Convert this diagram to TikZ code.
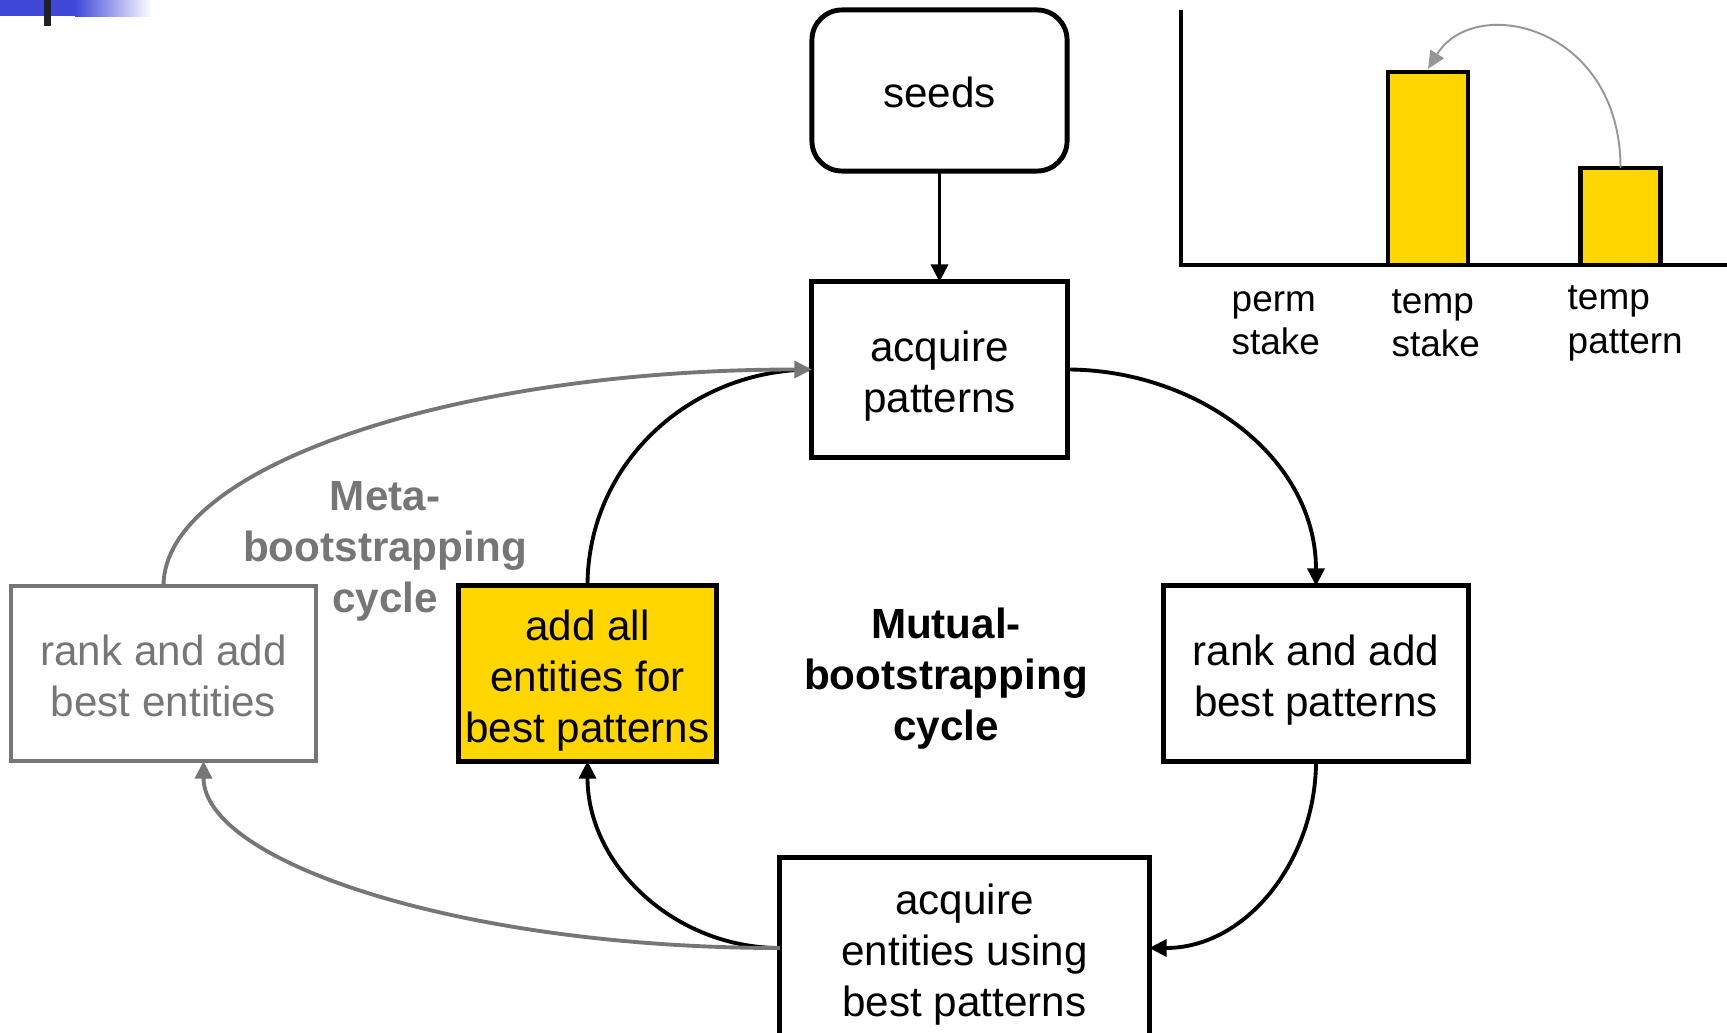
\documentclass[tikz,border=0pt]{standalone}
\usepackage{fontspec}
\setmainfont{Liberation Sans}
\usetikzlibrary{arrows.meta, positioning}
\definecolor{barfill}{RGB}{255,214,0}
\definecolor{metagrey}{RGB}{118,118,118}
\definecolor{tipgrey}{RGB}{150,150,150}
\definecolor{slideblue}{RGB}{64,72,216}
\newcommand{\topstrut}[1][12.6pt]{\rule{0pt}{#1}}
\newcommand{\botstrut}{\rule[-2.6pt]{0pt}{2.6pt}}

\begin{document}
\begin{tikzpicture}[x=0.01cm, y=0.01cm,
	box/.style={draw, line width=1.4pt, inner sep=0pt, outer sep=0pt, align=center, minimum height=1.75cm, font=\fontsize{12}{14.5}\selectfont},
	metabox/.style={box, draw=metagrey, text=metagrey, line width=1.2pt},
	bar/.style={draw, line width=1.3pt, fill=barfill, inner sep=0pt, outer sep=0pt, minimum width=0.8cm, anchor=south},
	flow/.style={line width=1.1pt, -{Triangle[length=5pt, width=4.8pt]}},
	metaflow/.style={flow, metagrey},
	cyclelabel/.style={align=center, font=\fontsize{12}{14.5}\selectfont\bfseries},
	barlabel/.style={anchor=west, align=left, inner sep=0pt, font=\fontsize{10.5}{12.3}\selectfont}]
	\useasboundingbox (0,0) rectangle (1727,1032);
	% slide corner
	\fill[slideblue] (0,1016) rectangle (76,1032);
	\shade[left color=slideblue, right color=white] (75,1016) rectangle (152,1032);
	\fill[black!87] (44,1006) rectangle (51,1032);
	% cycle boxes
	\node[box, rounded corners=0.3cm, minimum width=2.55cm, minimum height=1.61cm] (seeds) at (939.5,941.5) {\topstrut[9.6pt]seeds};
	\node[box, minimum width=2.55cm] (acqpat) at (939.5,662.5) {\topstrut acquire\\patterns\botstrut};
	\node[box, minimum width=3.04cm] (rankpat) at (1316,358.5) {\topstrut rank and add\\best patterns\botstrut};
	\node[box, minimum width=3.69cm, minimum height=1.8cm] (acqent) at (964.5,84) {\topstrut acquire\\entities using\\best patterns\botstrut};
	\node[box, fill=barfill, minimum width=2.57cm] (addall) at (587.5,358.5) {\topstrut add all\\entities for\\best patterns\botstrut};
	\node[metabox, minimum width=3.05cm] (rankent) at (163.5,358.5) {\topstrut rank and add\\best entities\botstrut};
	\node[cyclelabel, metagrey] (meta) at (385,481) {Meta-\\bootstrapping\\cycle};
	\node[cyclelabel] (mutual) at (946,353) {Mutual-\\bootstrapping\\cycle};
	% mutual-bootstrapping cycle
	\draw[flow] (seeds) -- (acqpat);
	\draw[flow] (acqpat.east) to[out=0, in=90] (rankpat.north);
	\draw[flow] (rankpat.south) to[out=-90, in=0] (acqent.east);
	\draw[flow] (acqent.west) to[out=180, in=-90] (addall.south);
	\draw[line width=1.1pt] (addall.north) to[out=90, in=180] (acqpat.west);
	% meta-bootstrapping cycle
	\draw[metaflow] (acqent.west) .. controls +(-318,0) and +(0,-101) .. ([xshift=0.4cm]rankent.south);
	\draw[metaflow] (rankent.north) .. controls +(0,119) and +(-358,0) .. (acqpat.west);
	% bar chart
	\node[bar, minimum height=1.93cm] (tempstake) at (1428,767) {};
	\node[bar, minimum height=0.97cm] (temppat) at (1620.5,767) {};
	\coordinate (origin) at (1181,767);
	\coordinate (axistop) at (1181,1022);
	\coordinate (axisend) at (1727,767);
	\draw[line width=1.3pt] (axistop) -- (origin) -- (axisend);
	\node[barlabel] (permlbl) at (1231,708.5) {perm\\stake};
	\node[barlabel] (tslbl) at (1391,708.5) {temp\\stake};
	\node[barlabel] (tplbl) at (1567,708.5) {temp\\pattern};
	\draw[tipgrey, line width=0.55pt, -{Triangle[length=5pt, width=4.5pt]}] (temppat.north) .. controls +(0,142) and +(47,76) .. ([yshift=0.03cm]tempstake.north);
\end{tikzpicture}
\end{document}
